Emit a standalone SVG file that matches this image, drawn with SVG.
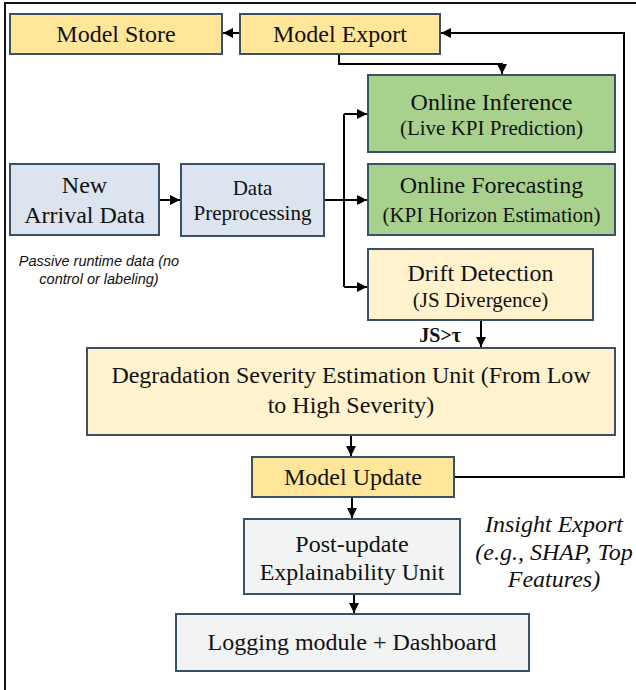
<svg xmlns="http://www.w3.org/2000/svg" width="636" height="690" viewBox="0 0 636 690">
<defs>
<marker id="ah" markerUnits="userSpaceOnUse" markerWidth="11" markerHeight="11" refX="10" refY="5" orient="auto">
<path d="M0,0 L10,5 L0,10 z" fill="#000"/>
</marker>
<style>
.box{stroke:#3A5068;stroke-width:2}
.y{fill:#FFE699}
.ly{fill:#FFF2CC}
.g{fill:#A9D18E}
.b{fill:#DCE4F0}
.gr{fill:#F2F3F3}
text{font-family:"Liberation Serif","Times New Roman",serif;fill:#111;text-anchor:middle}
.t{font-size:24px}
.s{font-size:21px}
.it{font-style:italic}
.c{fill:none;stroke:#000;stroke-width:2}
.note{font-family:"Liberation Sans",Arial,sans-serif;font-size:14.5px;font-style:italic}
</style>
</defs>
<rect x="5" y="3" width="660" height="720" fill="#fff" stroke="#111" stroke-width="2"/>

<g id="connectors">
<path class="c" d="M240,33 H223" marker-end="url(#ah)"/>
<path class="c" d="M339,54 V64 H502 V74" marker-end="url(#ah)"/>
<path class="c" d="M159,200 H180" marker-end="url(#ah)"/>
<path class="c" d="M324,200 H367" marker-end="url(#ah)"/>
<path class="c" d="M344,287 V114"/>
<path class="c" d="M344,114 H367" marker-end="url(#ah)"/>
<path class="c" d="M344,287 H367" marker-end="url(#ah)"/>
<path class="c" d="M481,320 V347" marker-end="url(#ah)"/>
<path class="c" d="M351,435 V456" marker-end="url(#ah)"/>
<path class="c" d="M454,477 H624 V33 H441" marker-end="url(#ah)"/>
<path class="c" d="M352,497 V518" marker-end="url(#ah)"/>
<path class="c" d="M354,594 V613" marker-end="url(#ah)"/>
<text x="440" y="342" style="font-size:20px;font-weight:bold">JS&gt;τ</text>
</g>

<g id="model-store"><rect class="box y" x="10" y="14" width="212" height="40"/><text class="t" x="116" y="42">Model Store</text></g>
<g id="model-export"><rect class="box y" x="240" y="14" width="200" height="40"/><text class="t" x="340" y="42">Model Export</text></g>
<g id="online-inference"><rect class="box g" x="368" y="75" width="247" height="77"/><text class="t" x="491.5" y="110">Online Inference</text><text class="s" x="491.5" y="135">(Live KPI Prediction)</text></g>
<g id="online-forecasting"><rect class="box g" x="368" y="164" width="247" height="71"/><text class="t" x="491.5" y="193">Online Forecasting</text><text class="s" x="491.5" y="222">(KPI Horizon Estimation)</text></g>
<g id="drift-detection"><rect class="box ly" x="368" y="249" width="225" height="71"/><text class="t" x="480.5" y="281">Drift Detection</text><text class="s" x="480.5" y="307">(JS Divergence)</text></g>
<g id="new-arrival"><rect class="box b" x="10" y="164" width="149" height="71"/><text class="t" x="84.5" y="193">New</text><text class="t" x="84.5" y="223">Arrival Data</text></g>
<g id="passive-note"><text class="note" x="99" y="266">Passive runtime data (no</text><text class="note" x="99" y="284">control or labeling)</text></g>
<g id="data-preprocessing"><rect class="box b" x="181" y="164" width="143" height="72"/><text class="s" x="252.5" y="195">Data</text><text class="s" x="252.5" y="220">Preprocessing</text></g>
<g id="degradation"><rect class="box ly" x="87" y="348" width="528" height="87"/><text class="t" x="351" y="383">Degradation Severity Estimation Unit (From Low</text><text class="t" x="351" y="413">to High Severity)</text></g>
<g id="model-update"><rect class="box y" x="252" y="457" width="202" height="40"/><text class="t" x="353" y="485">Model Update</text></g>
<g id="post-update"><rect class="box gr" x="244" y="519" width="216" height="75"/><text class="t" x="352" y="552">Post-update</text><text class="t" x="352" y="580">Explainability Unit</text></g>
<g id="insight-note"><text class="t it" x="554" y="532">Insight Export</text><text class="t it" x="554" y="560">(e.g., SHAP, Top</text><text class="t it" x="554" y="587">Features)</text></g>
<g id="logging"><rect class="box gr" x="176" y="614" width="353" height="57"/><text class="t" x="352" y="650">Logging module + Dashboard</text></g>
</svg>
